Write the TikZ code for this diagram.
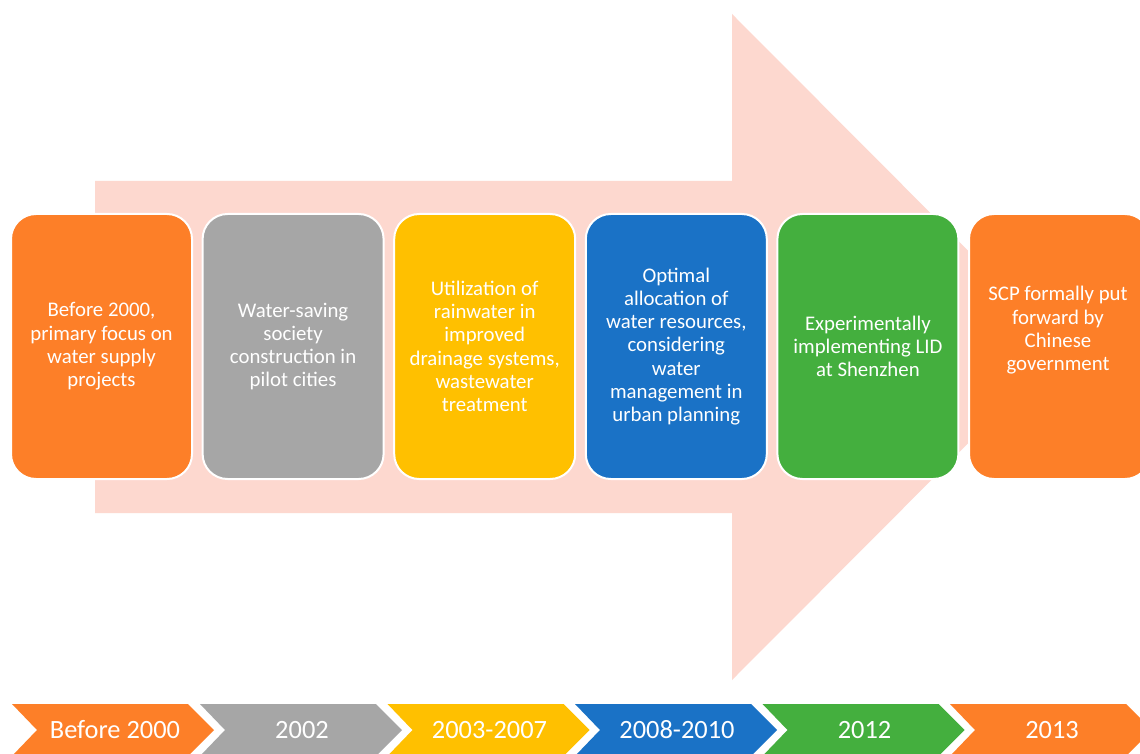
\documentclass[tikz,border=0pt]{standalone}
\usepackage{fontspec}
\setmainfont{Carlito}
\definecolor{corange}{HTML}{FD7F28}
\definecolor{cgray}{HTML}{A6A6A6}
\definecolor{cyellow}{HTML}{FFC000}
\definecolor{cblue}{HTML}{1A72C6}
\definecolor{cgreen}{HTML}{44AF3E}
\definecolor{cpink}{HTML}{FDD8CF}
\tikzset{
  box/.style={draw=white, line width=2pt, rounded corners=25pt, minimum width=181pt, minimum height=265pt,
    inner sep=0pt},
  boxtext/.style={text=white, align=center, font=\fontsize{20.8}{23.3}\selectfont, inner sep=0pt},
  chevtext/.style={text=white, font=\fontsize{26.4}{30}\selectfont, inner sep=0pt},
}
\newcommand{\chev}[2]{%
  \fill[#2] (#1,704) -- ++(176,0) -- ++(26,26) -- ++(-26,26) -- ++(-176,0) -- ++(25,-26) -- cycle;}
\begin{document}
\begin{tikzpicture}[x=1pt,y=-1pt]
\clip (0,0) rectangle (1140,754);
\fill[white] (0,0) rectangle (1140,754);
% big arrow
\fill[cpink] (95,181) -- (732,181) -- (732,14) -- (1064,347) -- (732,680) -- (732,513) -- (95,513) -- cycle;
% boxes
\node[box, fill=corange] (b1) at (101.5,346.5) {};
\node[box, fill=cgray] (b2) at (293.1,346.5) {};
\node[box, fill=cyellow] (b3) at (484.7,346.5) {};
\node[box, fill=cblue] (b4) at (676.3,346.5) {};
\node[box, fill=cgreen] (b5) at (867.9,346.5) {};
\node[box, fill=corange] (b6) at (1059.5,346.5) {};
\node[boxtext] (t1) at (101.5,346.5) {Before 2000,\\primary focus on\\water supply\\projects};
\node[boxtext] (t2) at (293.1,346.5) {Water-saving\\society\\construction in\\pilot cities};
\node[boxtext] (t3) at (484.7,346.5) {Utilization of\\rainwater in\\improved\\drainage systems,\\wastewater\\treatment};
\node[boxtext] (t4) at (676.3,346.5) {Optimal\\allocation of\\water resources,\\considering\\water\\management in\\urban planning};
\node[boxtext] (t5) at (867.9,346.5) {Experimentally\\implementing LID\\at Shenzhen};
\node[boxtext] (t6) at (1058,330.5) {SCP formally put\\forward by\\Chinese\\government};
% chevrons
\chev{12}{corange}
\chev{200}{cgray}
\chev{387.5}{cyellow}
\chev{575}{cblue}
\chev{762.5}{cgreen}
\chev{950}{corange}
\node[chevtext] (c1) at (115,730) {Before 2000};
\node[chevtext] (c2) at (302,730) {2002};
\node[chevtext] (c3) at (489.5,730) {2003-2007};
\node[chevtext] (c4) at (677,730) {2008-2010};
\node[chevtext] (c5) at (864.5,730) {2012};
\node[chevtext] (c6) at (1052,730) {2013};
\end{tikzpicture}
\end{document}
